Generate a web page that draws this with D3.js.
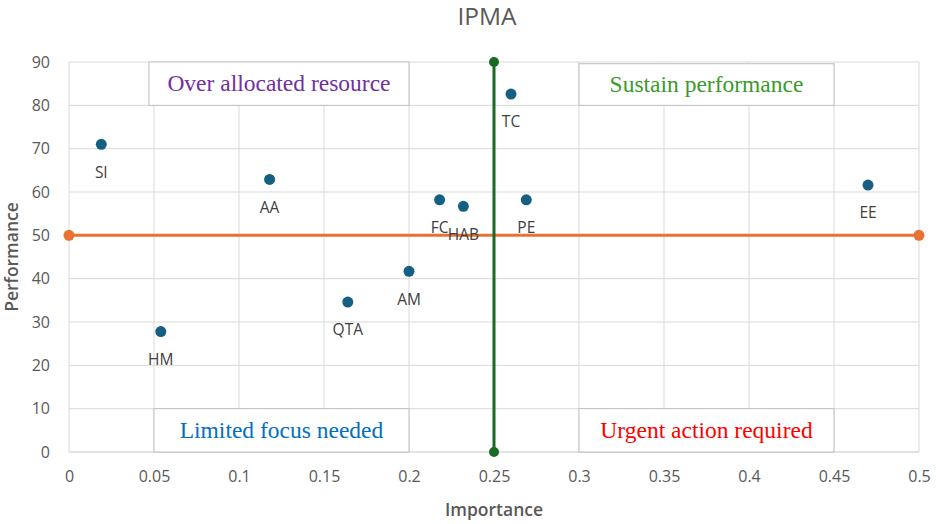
<!DOCTYPE html>
<html>
<head>
<meta charset="utf-8">
<script src="https://cdn.jsdelivr.net/npm/d3@7"></script>
<style>
  body { margin: 0; background: #fff; }
  .axis text { font-family: "Open Sans", sans-serif; font-size: 16px; fill: #595959; }
  .axis path, .axis line { stroke: none; }
</style>
</head>
<body>
<div id="chart"></div>
<script>
// data
var factors     = ["SI", "AA", "HM", "QTA", "AM", "FC", "HAB", "TC", "PE", "EE"];
var importance  = [0.019, 0.118, 0.054, 0.164, 0.2, 0.218, 0.232, 0.26, 0.269, 0.47];
var performance = [71.0, 62.9, 27.8, 34.6, 41.7, 58.2, 56.7, 82.6, 58.2, 61.6];

var xTicks = [0, 0.05, 0.1, 0.15, 0.2, 0.25, 0.3, 0.35, 0.4, 0.45, 0.5];
var yTicks = [0, 10, 20, 30, 40, 50, 60, 70, 80, 90];

// threshold lines
var importanceCut  = 0.25;
var performanceCut = 50;

// quadrant labels
var quadrants = ["Over allocated resource", "Sustain performance", "Limited focus needed", "Urgent action required"];
var quadrantX0 = [0.047, 0.3, 0.05, 0.3];
var quadrantX1 = [0.2, 0.45, 0.2, 0.45];
var quadrantY0 = [80, 80, 0, 0];
var quadrantY1 = [90, 89.6, 10, 10];
var quadrantColors = ["#7030A0", "#3A9A2A", "#0070C0", "#FF0000"];

var data = factors.map(function(f, i) {
  return { name: f, x: importance[i], y: performance[i] };
});

var margin = {top: 62, right: 17, bottom: 72, left: 69},
    W = 936, H = 524,
    width = W - margin.left - margin.right,
    height = H - margin.top - margin.bottom;

var svg = d3.select("#chart")
  .append("svg")
    .attr("width", W)
    .attr("height", H);

var g = svg.append("g")
    .attr("transform", "translate(" + margin.left + "," + margin.top + ")");

var x = d3.scaleLinear().domain([0, 0.5]).range([0, width]);
var y = d3.scaleLinear().domain([0, 90]).range([height, 0]);

// grid
g.append("g").selectAll("line")
  .data(xTicks).enter().append("line")
    .attr("x1", function(d) { return x(d); })
    .attr("x2", function(d) { return x(d); })
    .attr("y1", 0).attr("y2", height)
    .attr("stroke", "#d9d9d9").attr("stroke-width", 1);
g.append("g").selectAll("line")
  .data(yTicks).enter().append("line")
    .attr("x1", 0).attr("x2", width)
    .attr("y1", function(d) { return y(d); })
    .attr("y2", function(d) { return y(d); })
    .attr("stroke", "#d9d9d9").attr("stroke-width", function(d) { return d === 0 ? 1.5 : 1; });

// axes (labels only)
g.append("g")
  .attr("class", "axis")
  .attr("transform", "translate(0," + height + ")")
  .call(d3.axisBottom(x).tickValues(xTicks).tickSize(0).tickPadding(19).tickFormat(function(d) { return d3.format("")(d); }));
g.append("g")
  .attr("class", "axis")
  .call(d3.axisLeft(y).tickValues(yTicks).tickSize(0).tickPadding(19));

// quadrant boxes
var boxes = g.append("g").selectAll("g")
  .data(quadrants).enter().append("g");
boxes.append("rect")
  .attr("x", function(d, i) { return x(quadrantX0[i]); })
  .attr("y", function(d, i) { return y(quadrantY1[i]); })
  .attr("width", function(d, i) { return x(quadrantX1[i]) - x(quadrantX0[i]); })
  .attr("height", function(d, i) { return y(quadrantY0[i]) - y(quadrantY1[i]); })
  .attr("fill", "#fff")
  .attr("stroke", "#bfbfbf")
  .attr("stroke-width", 1);
boxes.append("text")
  .attr("x", function(d, i) { return (x(quadrantX0[i]) + x(quadrantX1[i])) / 2; })
  .attr("y", function(d, i) { return (y(quadrantY0[i]) + y(quadrantY1[i])) / 2; })
  .attr("dy", "0.33em")
  .attr("text-anchor", "middle")
  .attr("font-family", "'Liberation Serif', serif")
  .attr("font-size", "23.5px")
  .attr("fill", function(d, i) { return quadrantColors[i]; })
  .text(function(d) { return d; });

// horizontal threshold (performance)
g.append("line")
  .attr("x1", x(0)).attr("x2", x(0.5))
  .attr("y1", y(performanceCut)).attr("y2", y(performanceCut))
  .attr("stroke", "#E97132").attr("stroke-width", 3);
g.selectAll(".hdot")
  .data([0, 0.5]).enter().append("circle")
    .attr("class", "hdot")
    .attr("cx", function(d) { return x(d); })
    .attr("cy", y(performanceCut))
    .attr("r", 5.5)
    .attr("fill", "#E97132");

// vertical threshold (importance)
g.append("line")
  .attr("x1", x(importanceCut)).attr("x2", x(importanceCut))
  .attr("y1", y(0)).attr("y2", y(90))
  .attr("stroke", "#196B24").attr("stroke-width", 3);
g.selectAll(".vdot")
  .data([0, 90]).enter().append("circle")
    .attr("class", "vdot")
    .attr("cx", x(importanceCut))
    .attr("cy", function(d) { return y(d); })
    .attr("r", 5)
    .attr("fill", "#196B24");

// points
g.selectAll(".pt")
  .data(data).enter().append("circle")
    .attr("class", "pt")
    .attr("cx", function(d) { return x(d.x); })
    .attr("cy", function(d) { return y(d.y); })
    .attr("r", 5.5)
    .attr("fill", "#156082");

// point labels
g.selectAll(".lbl")
  .data(data).enter().append("text")
    .attr("class", "lbl")
    .attr("x", function(d) { return x(d.x); })
    .attr("y", function(d) { return y(d.y) + 28; })
    .attr("dy", "0.35em")
    .attr("text-anchor", "middle")
    .attr("font-family", "'Open Sans', sans-serif")
    .attr("font-size", "15.5px")
    .attr("fill", "#404040")
    .text(function(d) { return d.name; });

// title
svg.append("text")
  .attr("x", 487)
  .attr("y", 16)
  .attr("dy", "0.35em")
  .attr("text-anchor", "middle")
  .attr("font-family", "'Open Sans', sans-serif")
  .attr("font-size", "24.5px")
  .attr("fill", "#595959")
  .text("IPMA");

// x axis title
svg.append("text")
  .attr("x", 494)
  .attr("y", 510)
  .attr("dy", "0.35em")
  .attr("text-anchor", "middle")
  .attr("font-family", "'Open Sans', sans-serif")
  .attr("font-size", "17.5px")
  .attr("font-weight", 600)
  .attr("fill", "#595959")
  .text("Importance");

// y axis title
svg.append("text")
  .attr("transform", "translate(12,257) rotate(-90)")
  .attr("dy", "0.35em")
  .attr("text-anchor", "middle")
  .attr("font-family", "'Open Sans', sans-serif")
  .attr("font-size", "17.5px")
  .attr("font-weight", 600)
  .attr("fill", "#595959")
  .text("Performance");
</script>
</body>
</html>
